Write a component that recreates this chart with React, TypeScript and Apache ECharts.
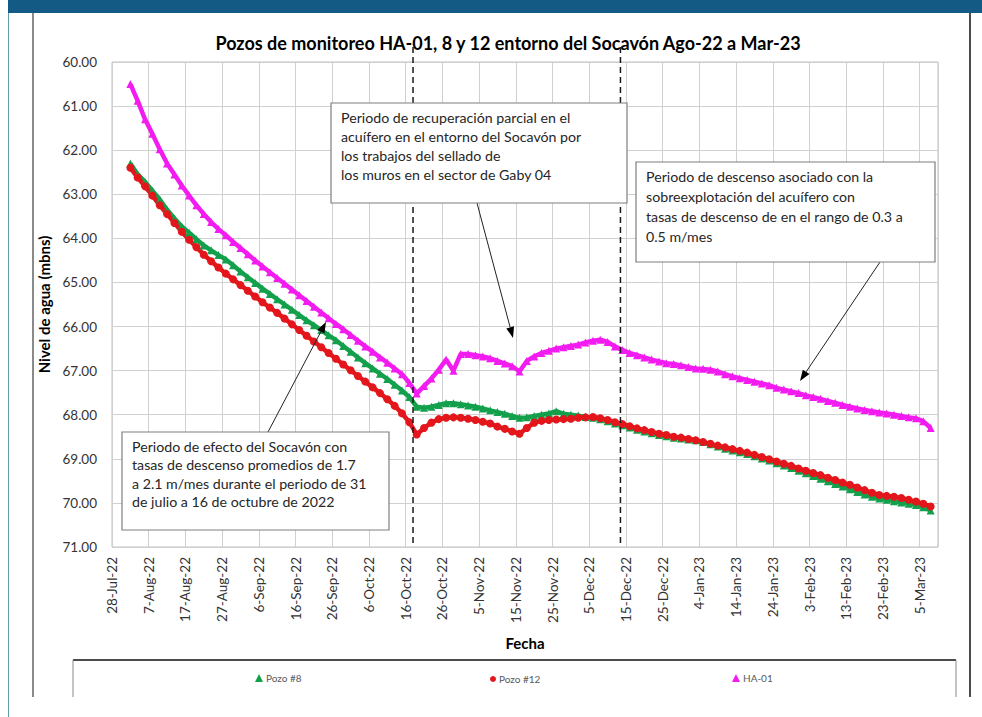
import React, { useEffect, useRef } from "react";
import * as echarts from "echarts";

// sampling days (offset in days from 28-Jul-22), every 2 days
const START_UTC = Date.UTC(2022, 6, 28);
const DAYS: number[] = Array.from({ length: 110 }, (_, i) => 5 + 2 * i);

const HA01 = [
  60.50, 60.88, 61.30, 61.63, 61.98, 62.30, 62.55, 62.80, 63.03, 63.25,
  63.45, 63.63, 63.79, 63.93, 64.08, 64.22, 64.36, 64.50, 64.64, 64.77,
  64.90, 65.03, 65.16, 65.29, 65.42, 65.55, 65.68, 65.81, 65.94, 66.06,
  66.19, 66.32, 66.45, 66.57, 66.70, 66.82, 66.95, 67.08, 67.28, 67.52,
  67.35, 67.18, 66.98, 66.75, 67.00, 66.62, 66.62, 66.65, 66.68, 66.72,
  66.78, 66.84, 66.90, 67.02, 66.78, 66.68, 66.60, 66.55, 66.50, 66.47,
  66.44, 66.41, 66.36, 66.32, 66.30, 66.35, 66.45, 66.53, 66.60, 66.65,
  66.70, 66.75, 66.79, 66.83, 66.85, 66.88, 66.92, 66.95, 66.96, 66.98,
  67.02, 67.08, 67.13, 67.17, 67.21, 67.25, 67.29, 67.33, 67.39, 67.43,
  67.47, 67.51, 67.56, 67.60, 67.64, 67.69, 67.73, 67.78, 67.82, 67.86,
  67.89, 67.92, 67.95, 67.97, 68.00, 68.03, 68.06, 68.08, 68.15, 68.30,
];

const POZO8 = [
  62.30, 62.55, 62.72, 62.92, 63.12, 63.35, 63.55, 63.73, 63.87, 64.02,
  64.16, 64.27, 64.38, 64.48, 64.61, 64.75, 64.88, 65.01, 65.14, 65.26,
  65.38, 65.50, 65.62, 65.74, 65.86, 65.97, 66.08, 66.20, 66.31, 66.44,
  66.57, 66.70, 66.83, 66.95, 67.07, 67.19, 67.32, 67.45, 67.60, 67.82,
  67.84, 67.82, 67.78, 67.74, 67.74, 67.76, 67.79, 67.82, 67.86, 67.90,
  67.94, 67.98, 68.03, 68.07, 68.06, 68.03, 68.00, 67.97, 67.92, 67.98,
  68.00, 68.02, 68.05, 68.07, 68.10, 68.15, 68.20, 68.24, 68.29, 68.34,
  68.38, 68.42, 68.46, 68.49, 68.52, 68.54, 68.56, 68.58, 68.62, 68.67,
  68.72, 68.77, 68.81, 68.85, 68.89, 68.94, 68.99, 69.04, 69.10, 69.15,
  69.21, 69.27, 69.33, 69.39, 69.45, 69.51, 69.57, 69.63, 69.69, 69.75,
  69.81, 69.86, 69.90, 69.93, 69.96, 69.99, 70.02, 70.05, 70.10, 70.17,
];

const POZO12 = [
  62.40, 62.62, 62.82, 63.03, 63.25, 63.45, 63.65, 63.85, 64.03, 64.20,
  64.37, 64.52, 64.66, 64.80, 64.93, 65.06, 65.19, 65.32, 65.45, 65.57,
  65.69, 65.82, 65.95, 66.08, 66.21, 66.34, 66.47, 66.60, 66.73, 66.86,
  66.99, 67.12, 67.25, 67.38, 67.51, 67.65, 67.80, 67.97, 68.17, 68.45,
  68.30, 68.18, 68.10, 68.07, 68.06, 68.07, 68.09, 68.12, 68.16, 68.20,
  68.27, 68.32, 68.38, 68.43, 68.30, 68.18, 68.14, 68.12, 68.11, 68.10,
  68.09, 68.07, 68.06, 68.05, 68.08, 68.12, 68.17, 68.21, 68.26, 68.31,
  68.35, 68.39, 68.43, 68.46, 68.50, 68.52, 68.55, 68.58, 68.62, 68.66,
  68.70, 68.74, 68.78, 68.82, 68.86, 68.91, 68.96, 69.01, 69.06, 69.11,
  69.16, 69.22, 69.27, 69.32, 69.37, 69.43, 69.48, 69.54, 69.59, 69.65,
  69.71, 69.77, 69.82, 69.84, 69.86, 69.89, 69.93, 69.97, 70.02, 70.08,
];

// dashed event lines (day offsets)
const EVENT_DAYS = [82, 138.5];

const MONTHS = ["Jan", "Feb", "Mar", "Apr", "May", "Jun", "Jul", "Aug", "Sep", "Oct", "Nov", "Dec"];

const TITLE = "Pozos de monitoreo HA-01, 8 y 12 entorno del Socavón Ago-22 a Mar-23";
const NOTE_RECOVERY = [
  "Periodo de recuperación parcial en el",
  "acuífero en el entorno del Socavón por",
  "los trabajos del sellado de",
  "los muros en el sector de Gaby 04",
];
const NOTE_DESCENT = [
  "Periodo de descenso asociado con la",
  "sobreexplotación del acuífero con",
  "tasas de descenso de en el rango de 0.3 a",
  "0.5 m/mes",
];
const NOTE_EFFECT = [
  "Periodo de efecto del Socavón con",
  "tasas de descenso promedios de 1.7",
  "a 2.1 m/mes durante el periodo de 31",
  "de julio a 16 de octubre de 2022",
];

const FONT = "Lato, 'Noto Sans', sans-serif";

function fmtDay(v: number) {
  const d = new Date(START_UTC + v * 86400000);
  return `${d.getUTCDate()}-${MONTHS[d.getUTCMonth()]}-${String(d.getUTCFullYear()).slice(2)}`;
}

function arrow(x1: number, y1: number, x2: number, y2: number) {
  const ang = Math.atan2(y2 - y1, x2 - x1);
  const L = 11, W = 4;
  const bx = x2 - L * Math.cos(ang), by = y2 - L * Math.sin(ang);
  const px = -Math.sin(ang) * W, py = Math.cos(ang) * W;
  return [
    { type: "line", shape: { x1, y1, x2: bx, y2: by }, style: { stroke: "#222", lineWidth: 1 } },
    {
      type: "polygon",
      shape: { points: [[x2, y2], [bx + px, by + py], [bx - px, by - py]] },
      style: { fill: "#000" },
    },
  ];
}

function note(x: number, y: number, w: number, h: number, lines: string[], lh: number, fs: number) {
  return [
    { type: "rect", shape: { x, y, width: w, height: h }, style: { fill: "#fff", stroke: "#7f7f7f", lineWidth: 1.2 }, z: 20 },
    ...lines.map((t, i) => ({
      type: "text",
      x: x + 10,
      y: y + 14 + i * lh,
      z: 21,
      style: { text: t, fill: "#262626", font: `${fs}px ${FONT}`, verticalAlign: "middle", align: "left" },
    })),
  ];
}

export default function App() {
  const ref = useRef<HTMLDivElement>(null);
  useEffect(() => {
    if (!ref.current) return;
    const chart = echarts.init(ref.current, undefined, { renderer: "svg" });
    const mk = (vals: number[]) => DAYS.map((d, i) => [d, vals[i]]);
    const GRID = { left: 112, top: 62, width: 826, height: 485 };
    chart.setOption({
      animation: false,
      backgroundColor: "#ffffff",
      textStyle: { fontFamily: FONT },
      title: {
        text: TITLE,
        left: 503,
        top: 29,
        textAlign: "center",
        textStyle: { fontSize: 18, fontWeight: "bold", color: "#000", fontFamily: FONT },
      },
      grid: { ...GRID, show: true, borderColor: "#bfbfbf", borderWidth: 1, containLabel: false },
      legend: [
        { data: [{ name: "Pozo #8", icon: "triangle" }], left: 255, top: 673, size: 8 },
        { data: [{ name: "Pozo #12", icon: "circle" }], left: 490, top: 674, size: 6 },
        { data: [{ name: "HA-01", icon: "triangle" }], left: 732, top: 673, size: 8 },
      ].map(({ size, ...l }) => ({
        ...l,
        itemWidth: size,
        itemHeight: size,
        itemGap: 4,
        padding: 0,
        itemStyle: { borderWidth: 0 },
        textStyle: { fontSize: 10, color: "#595959", fontFamily: FONT, padding: [0, 0, 0, -2] },
      })),
      xAxis: {
        type: "value",
        min: 0,
        max: 225,
        interval: 10,
        name: "Fecha",
        nameLocation: "middle",
        nameGap: 88,
        nameTextStyle: { fontSize: 15, fontWeight: "bold", color: "#000" },
        axisLine: { show: false },
        axisTick: { show: false },
        axisLabel: {
          rotate: 90,
          margin: 10,
          fontSize: 13.5,
          color: "#333",
          showMaxLabel: false,
          formatter: (v: number) => fmtDay(v),
        },
        splitLine: { show: true, lineStyle: { color: "#d0d0d0", width: 1 } },
      },
      yAxis: {
        type: "value",
        inverse: true,
        min: 60,
        max: 71,
        interval: 1,
        name: "Nivel de agua (mbns)",
        nameLocation: "middle",
        nameGap: 58,
        nameTextStyle: { fontSize: 15, fontWeight: "bold", color: "#000" },
        axisLine: { show: false },
        axisTick: { show: false },
        axisLabel: { margin: 15, fontSize: 13.5, color: "#333", formatter: (v: number) => v.toFixed(2) },
        splitLine: { show: true, lineStyle: { color: "#d0d0d0", width: 1 } },
      },
      series: [
        { name: "Pozo #8", data: mk(POZO8), color: "#13a04c", symbol: "triangle" },
        { name: "Pozo #12", data: mk(POZO12), color: "#e3161b", symbol: "circle" },
        { name: "HA-01", data: mk(HA01), color: "#f31cf0", symbol: "triangle" },
      ].map((s) => ({
        ...s,
        type: "line",
        showSymbol: true,
        symbolSize: 8,
        lineStyle: { width: 4.5, color: s.color },
        itemStyle: { color: s.color },
      })),
    });

    const bottom = GRID.top + GRID.height;
    const dashed = EVENT_DAYS.map((d) => {
      const x = chart.convertToPixel({ xAxisIndex: 0 }, d) as number;
      return {
        type: "line",
        z: 15,
        shape: { x1: x, y1: 47, x2: x, y2: bottom },
        style: { stroke: "#1a1a1a", lineWidth: 1.5, lineDash: [6, 4] },
      };
    });

    chart.setOption({
      graphic: [
        { type: "rect", shape: { x: 8, y: 0, width: 974, height: 13 }, style: { fill: "#135a84" } },
        { type: "line", shape: { x1: 8.5, y1: 13, x2: 8.5, y2: 717 }, style: { stroke: "#5f9ea8", lineWidth: 1 } },
        { type: "line", shape: { x1: 33, y1: 13, x2: 33, y2: 697 }, style: { stroke: "#8a8a8a", lineWidth: 2 } },
        { type: "line", shape: { x1: 970, y1: 13, x2: 970, y2: 697 }, style: { stroke: "#111", lineWidth: 1.5 } },
        { type: "line", shape: { x1: 73, y1: 660, x2: 956, y2: 660 }, style: { stroke: "#111", lineWidth: 1.5 } },
        { type: "line", shape: { x1: 73, y1: 660, x2: 73, y2: 697 }, style: { stroke: "#8a8a8a", lineWidth: 1 } },
        { type: "line", shape: { x1: 956, y1: 660, x2: 956, y2: 697 }, style: { stroke: "#8a8a8a", lineWidth: 1 } },
        ...dashed,
        ...note(331, 103, 296, 100, NOTE_RECOVERY, 19, 14.2),
        ...note(636, 162, 299, 100, NOTE_DESCENT, 20, 14.2),
        ...note(122, 432, 267, 98, NOTE_EFFECT, 18.5, 14.2),
        ...arrow(477, 203, 513, 338),
        ...arrow(268, 432, 326, 322),
        ...arrow(880, 262, 800, 381),
      ].map((g: any) => ({ z: g.z ?? 10, ...g })),
    });

    return () => chart.dispose();
  }, []);
  return (
    <div
      ref={ref}
      style={{ position: "absolute", left: 0, top: 0, width: 982, height: 717, background: "#fff" }}
    />
  );
}
